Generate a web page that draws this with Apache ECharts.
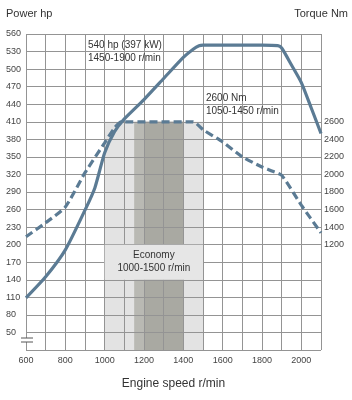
<!DOCTYPE html>
<html><head><meta charset="utf-8">
<script src="https://cdn.jsdelivr.net/npm/echarts@6/dist/echarts.min.js"></script>
<style>html,body{margin:0;padding:0;background:#fff}#c{width:352px;height:400px}</style>
</head><body><div id="c"></div>
<script>
// ---- data ----
const rpmLabels = [600, 800, 1000, 1200, 1400, 1600, 1800, 2000];
const hpLabels = [50, 80, 110, 140, 170, 200, 230, 260, 290, 320, 350, 380, 410, 440, 470, 500, 530, 560];
const nmLabels = [1200, 1400, 1600, 1800, 2000, 2200, 2400, 2600];

const powerRpm = [600, 700, 800, 900, 950, 1000, 1050, 1100, 1200, 1300, 1400, 1450, 1480, 1500, 1600, 1700, 1800, 1880, 1900, 1950, 2000, 2050, 2100];
const powerHp  = [109, 145, 191, 259, 297, 357, 393, 415, 448, 484, 520, 534, 540, 541, 541, 541, 541, 540, 536, 507, 477, 434, 390];

const torqueRpm = [600, 700, 800, 900, 1000, 1050, 1085, 1450, 1500, 1600, 1700, 1800, 1850, 1900, 2000, 2100];
const torqueNm  = [1290, 1450, 1630, 2020, 2360, 2530, 2600, 2600, 2510, 2370, 2200, 2085, 2040, 1990, 1650, 1335];

const economyRange = [1000, 1500];
const midRange = [1150, 1400];
const darkRange = [1200, 1400];
const bandTopHp = 410;
const economyBoxHp = [140, 200];

const powerNote = '540 hp (397 kW)\n1450-1900 r/min';
const torqueNote = '2600 Nm\n1050-1450 r/min';
const economyNote = 'Economy\n1000-1500 r/min';

// ---- chart ----
const FONT = 'Liberation Sans, Arial, sans-serif';
const CURVE = '#5b7b94';
const GRIDC = '#949494';
const chart = echarts.init(document.getElementById('c'), null, {renderer: 'canvas'});
const toPairs = (xs, ys) => xs.map((x, i) => [x, ys[i]]);

chart.setOption({
  animation: false,
  backgroundColor: '#fff',
  grid: {left: 26, right: 31, top: 34, bottom: 50, containLabel: false},
  xAxis: {
    type: 'value', min: 600, max: 2100, interval: 100, z: 2,
    axisLine: {show: false}, axisTick: {show: false},
    splitLine: {show: true, lineStyle: {color: GRIDC, width: 1}},
    axisLabel: {
      margin: 6, fontSize: 9, color: '#444', fontFamily: FONT,
      formatter: v => rpmLabels.includes(v) ? String(v) : ''
    },
    name: 'Engine speed r/min', nameLocation: 'middle', nameGap: 28,
    nameTextStyle: {fontSize: 12, color: '#333', fontFamily: FONT}
  },
  yAxis: [{
    type: 'value', min: 20, max: 560, interval: 30, z: 2,
    axisLine: {show: false}, axisTick: {show: false},
    splitLine: {show: false},
    axisLabel: {
      margin: 20, align: 'left', fontSize: 9, color: '#444', fontFamily: FONT,
      formatter: v => hpLabels.includes(v) ? String(v) : ''
    }
  }, {
    type: 'value', min: 0, max: 3600, interval: 200, position: 'right', z: 2,
    axisLine: {show: false}, axisTick: {show: false},
    splitLine: {show: true, lineStyle: {color: GRIDC, width: 1}},
    axisLabel: {
      margin: 3, align: 'left', fontSize: 9, color: '#444', fontFamily: FONT,
      formatter: v => nmLabels.includes(v) ? String(v) : ''
    }
  }],
  series: [
    {
      type: 'line', data: [], z: 1, silent: true,
      markArea: {
        silent: true, z: 1,
        data: [
          [{xAxis: economyRange[0], yAxis: 20, itemStyle: {color: '#e3e3e3'}}, {xAxis: economyRange[1], yAxis: bandTopHp}],
          [{xAxis: midRange[0], yAxis: 20, itemStyle: {color: '#b9b9b3'}}, {xAxis: midRange[1], yAxis: bandTopHp}],
          [{xAxis: darkRange[0], yAxis: 20, itemStyle: {color: '#a9a9a2'}}, {xAxis: darkRange[1], yAxis: bandTopHp}]
        ]
      }
    },
    {
      type: 'line', data: [], z: 3, silent: true,
      markArea: {
        silent: true, z: 3,
        itemStyle: {color: '#e6e6e6'},
        label: {show: true, position: 'inside', formatter: economyNote, fontSize: 10, lineHeight: 13, color: '#333', fontFamily: FONT},
        data: [[{xAxis: economyRange[0], yAxis: economyBoxHp[0]}, {xAxis: economyRange[1], yAxis: economyBoxHp[1]}]]
      }
    },
    {
      name: 'Torque', type: 'line', yAxisIndex: 1, z: 4,
      data: toPairs(torqueRpm, torqueNm),
      showSymbol: false, smooth: 0.2,
      lineStyle: {color: CURVE, width: 3.2, type: [8, 4], cap: 'butt'}
    },
    {
      name: 'Power', type: 'line', yAxisIndex: 0, z: 5,
      data: toPairs(powerRpm, powerHp),
      showSymbol: false, smooth: 0.2,
      lineStyle: {color: CURVE, width: 3.2}
    }
  ],
  graphic: [
    {type: 'text', left: 6, top: 8, style: {text: 'Power hp', fontSize: 11, fill: '#333', fontFamily: FONT}},
    {type: 'text', right: 4, top: 8, style: {text: 'Torque Nm', fontSize: 11, fill: '#333', fontFamily: FONT}},
    {type: 'text', left: 88, top: 39, z: 10, style: {text: powerNote, fontSize: 10, lineHeight: 13, fill: '#333', fontFamily: FONT}},
    {type: 'text', left: 206, top: 92, z: 10, style: {text: torqueNote, fontSize: 10, lineHeight: 13, fill: '#333', fontFamily: FONT}},
    {type: 'rect', z: 10, shape: {x: 20, y: 338, width: 14, height: 4}, style: {fill: '#fff'}},
    {type: 'line', z: 11, shape: {x1: 21, y1: 338, x2: 33, y2: 338}, style: {stroke: '#555', lineWidth: 1}},
    {type: 'line', z: 11, shape: {x1: 21, y1: 342, x2: 33, y2: 342}, style: {stroke: '#555', lineWidth: 1}}
  ]
});
</script></body></html>
